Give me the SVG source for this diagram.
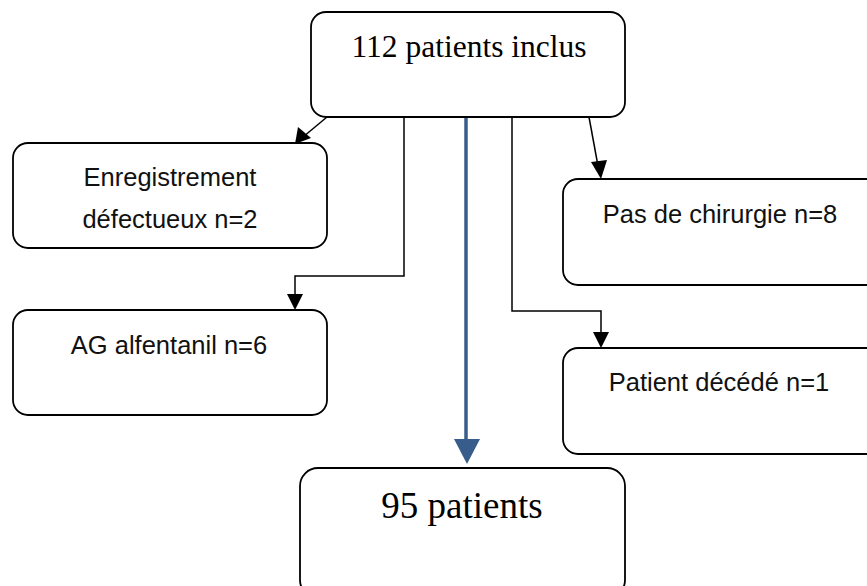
<svg xmlns="http://www.w3.org/2000/svg" width="867" height="586" viewBox="0 0 867 586">
<style>
.box{fill:#fff;stroke:#000;stroke-width:1.8}
.ln{fill:none;stroke:#000;stroke-width:1.5}
.blue{fill:none;stroke:#385D8A;stroke-width:3.5}
.ser{font-family:"Liberation Serif","Times New Roman",serif;fill:#000;text-anchor:middle}
.san{font-family:"Liberation Sans",Arial,sans-serif;font-size:25.5px;fill:#111;text-anchor:middle}
</style>
<rect width="867" height="586" fill="#fff"/>
<g id="connectors">
<line class="ln" x1="327" y1="117" x2="303" y2="137"/>
<polygon points="295,144 298,127 311,138" fill="#000"/>
<polyline class="ln" points="404,117 404,276 295,276 295,298"/>
<polygon points="295,310 287,294 303,294" fill="#000"/>
<line class="blue" x1="466" y1="117" x2="466" y2="442"/>
<polygon points="467,464 454,439 480,439" fill="#385D8A"/>
<polyline class="ln" points="512,117 512,311 601,311 601,334"/>
<polygon points="601,348 593,332 609,332" fill="#000"/>
<line class="ln" x1="589" y1="117" x2="598" y2="166"/>
<polygon points="601,179 591,162 607,160" fill="#000"/>
</g>
<g id="n_top">
<rect class="box" x="311" y="12" width="314" height="105" rx="15"/>
<text class="ser" x="469" y="57" font-size="31.5">112 patients inclus</text>
</g>
<g id="n_enreg">
<rect class="box" x="13" y="143" width="314" height="105" rx="15"/>
<text class="san" x="170" y="186">Enregistrement</text>
<text class="san" x="170" y="228">défectueux n=2</text>
</g>
<g id="n_ag">
<rect class="box" x="13" y="310" width="314" height="105" rx="15"/>
<text class="san" x="169" y="354">AG alfentanil n=6</text>
</g>
<g id="n_chir">
<rect class="box" x="563" y="179" width="320" height="106" rx="15"/>
<text class="san" x="720" y="223">Pas de chirurgie n=8</text>
</g>
<g id="n_dec">
<rect class="box" x="563" y="348" width="320" height="106" rx="15"/>
<text class="san" x="719" y="391">Patient décédé n=1</text>
</g>
<g id="n_95">
<rect class="box" x="300" y="468" width="325" height="130" rx="18"/>
<text class="ser" x="462" y="518" font-size="37">95 patients</text>
</g>
</svg>
